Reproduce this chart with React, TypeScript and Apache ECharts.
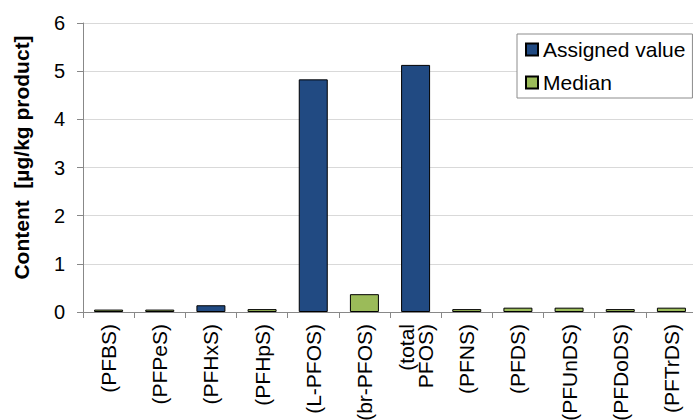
import React, { useEffect, useRef } from "react";
import * as echarts from "echarts";

const categories = [
  "(PFBS)", "(PFPeS)", "(PFHxS)", "(PFHpS)", "(L-PFOS)", "(br-PFOS)",
  "(total\nPFOS)", "(PFNS)", "(PFDS)", "(PFUnDS)", "(PFDoDS)", "(PFTrDS)",
];
const assignedValue: (number | null)[] = [null, null, 0.14, null, 4.83, null, 5.13, null, null, null, null, null];
const medianValue: (number | null)[] = [0.05, 0.05, null, 0.06, null, 0.37, null, 0.06, 0.09, 0.09, 0.06, 0.09];
const yTicks = [0, 1, 2, 3, 4, 5, 6];

const FONT = "Liberation Sans, Arial, sans-serif";

export default function App() {
  const ref = useRef<HTMLDivElement>(null);
  useEffect(() => {
    if (!ref.current) return;
    const chart = echarts.init(ref.current, null, { renderer: "svg" });
    chart.setOption({
      animation: false,
      backgroundColor: "#ffffff",
      textStyle: { fontFamily: FONT },
      grid: {
        left: 83,
        top: 23,
        width: 614,
        height: 289,
        containLabel: false,
        outerBoundsMode: "none",
      },
      legend: {
        orient: "vertical",
        left: 517,
        top: 34,
        itemWidth: 12,
        itemHeight: 12,
        itemGap: 12,
        padding: [5, 7, 5, 8],
        backgroundColor: "#ffffff",
        borderColor: "#8c8c8c",
        borderWidth: 1,
        icon: "rect",
        textStyle: { fontSize: 21, color: "#000", fontFamily: FONT, width: 150 },
        data: ["Assigned value", "Median"],
      },
      xAxis: {
        type: "category",
        data: categories,
        axisLine: { show: true, lineStyle: { color: "#888888", width: 1 } },
        axisTick: { show: true, alignWithLabel: false, length: 6, lineStyle: { color: "#888888" } },
        axisLabel: {
          rotate: 90,
          fontSize: 21,
          color: "#000",
          margin: 12,
          interval: 0,
          lineHeight: 19,
          fontFamily: FONT,
          hideOverlap: false,
        },
        splitLine: { show: false },
      },
      yAxis: {
        type: "value",
        min: yTicks[0],
        max: yTicks[yTicks.length - 1],
        interval: 1,
        name: "Content  [µg/kg product]",
        nameLocation: "middle",
        nameRotate: 90,
        nameGap: 51,
        nameTextStyle: {
          fontSize: 21,
          fontWeight: "bold",
          color: "#000",
          fontFamily: FONT,
          padding: [0, 0, 0, 20],
        },
        axisLine: { show: true, lineStyle: { color: "#888888", width: 1 } },
        axisTick: { show: true, length: 6, lineStyle: { color: "#888888" } },
        axisLabel: { fontSize: 20, color: "#000", margin: 18, fontFamily: FONT },
        splitLine: { show: true, lineStyle: { color: "#d9d9d9", width: 1 } },
      },
      series: [
        {
          name: "Assigned value",
          type: "bar",
          data: assignedValue,
          barWidth: 29,
          barGap: "-100%",
          itemStyle: { color: "#214a82", borderColor: "#000", borderWidth: 1 },
        },
        {
          name: "Median",
          type: "bar",
          data: medianValue,
          barWidth: 29,
          itemStyle: { color: "#9bbb59", borderColor: "#000", borderWidth: 1 },
        },
      ],
    });
    return () => chart.dispose();
  }, []);
  return (
    <div
      ref={ref}
      style={{ position: "fixed", left: 0, top: 0, width: 693, height: 420 }}
    />
  );
}
